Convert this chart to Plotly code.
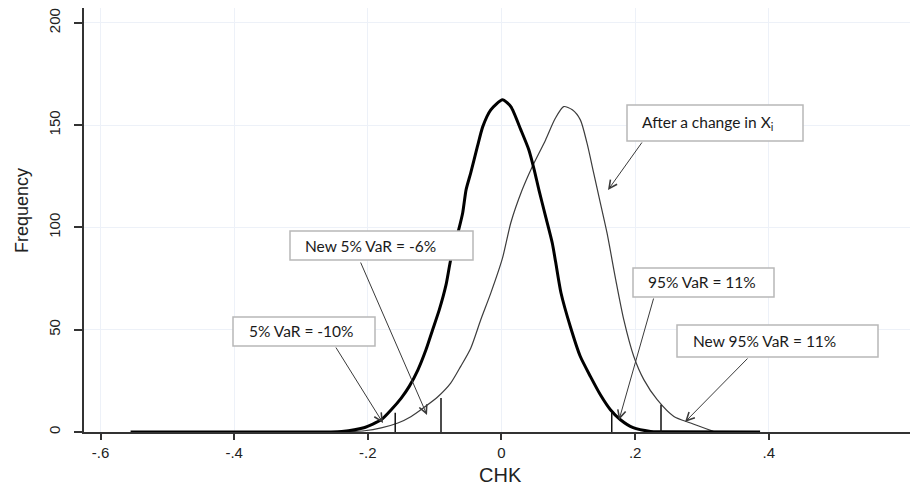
import plotly.graph_objects as go

# Kernel density of CHK returns (bold) and the shifted density after a change in X_i (thin)
chk_base = [-0.555, -0.300, -0.239, -0.206, -0.180, -0.165, -0.150, -0.138, -0.125, -0.113,
            -0.103, -0.093, -0.083, -0.076, -0.064, -0.058, -0.053, -0.046, -0.036, -0.028,
            -0.016, 0.0015, 0.014, 0.029, 0.041, 0.049, 0.056, 0.066, 0.076, 0.081,
            0.089, 0.103, 0.118, 0.133, 0.148, 0.163, 0.178, 0.197, 0.223, 0.238, 0.387]
freq_base = [0.0, 0.0, 0.3, 2.1, 6.0, 10.9, 16.6, 22.3, 30.4, 40.2,
             50.0, 59.8, 71.9, 84.2, 98.9, 107.2, 118.4, 126.7, 139.6, 149.3,
             157.5, 162.4, 159.1, 147.7, 137.9, 128.2, 118.4, 105.4, 92.4, 83.2,
             68.1, 51.6, 36.9, 27.2, 18.2, 10.9, 6.0, 2.1, 0.3, 0.1, 0.0]

chk_shift = [-0.250, -0.230, -0.205, -0.180, -0.155, -0.135, -0.116, -0.096, -0.076, -0.061,
             -0.046, -0.031, -0.016, 0.0015, 0.014, 0.031, 0.045, 0.066, 0.080, 0.093,
             0.106, 0.118, 0.128, 0.138, 0.148, 0.158, 0.171, 0.183, 0.198, 0.213,
             0.233, 0.258, 0.283, 0.317]
freq_shift = [0.0, 0.15, 0.6, 2.0, 4.4, 7.6, 12.0, 17.0, 23.9, 32.1,
              41.0, 54.9, 67.9, 85.0, 102.3, 118.4, 129.0, 142.8, 153.0, 159.1,
              157.5, 152.6, 141.2, 126.6, 111.9, 97.2, 74.4, 54.9, 36.9, 25.6,
              15.8, 7.6, 4.4, 0.3]

# Value-at-risk markers (position on CHK axis, marker height)
var_chk = [-0.159, -0.0905, 0.165, 0.2387]
var_freq = [9.4, 16.6, 9.3, 13.3]

x_ticks = [-0.6, -0.4, -0.2, 0, 0.2, 0.4]
x_tick_text = ["-.6", "-.4", "-.2", "0", ".2", ".4"]
y_ticks = [0, 50, 100, 150, 200]

W, H = 910, 486
L, R, T, B = 84, 0, 8, 54
X_RANGE = [-0.6247, 0.6113]
Y_RANGE = [0, 207.3]


def px(xp):
    return (xp - L) / (W - L - R)


def py(yp):
    return (H - B - yp) / (H - T - B)


AXIS_COL = "#333333"
TICK_FONT = dict(family="Liberation Sans, Arial, sans-serif", size=15, color="#222222")
BOX_FONT = dict(family="Lato, Carlito, sans-serif", size=15.5, color="#1a1a1a")

fig = go.Figure()

fig.add_trace(go.Scatter(x=chk_shift, y=freq_shift, mode="lines",
                         line=dict(color="#3c3c3c", width=1.2, shape="spline", smoothing=0.7),
                         hoverinfo="skip"))
fig.add_trace(go.Scatter(x=chk_base, y=freq_base, mode="lines",
                         line=dict(color="#000000", width=3, shape="spline", smoothing=0.6),
                         hoverinfo="skip"))

vx, vy = [], []
for xv, hv in zip(var_chk, var_freq):
    vx += [xv, xv, None]
    vy += [0, hv, None]
fig.add_trace(go.Scatter(x=vx, y=vy, mode="lines",
                         line=dict(color="#111111", width=1.5), hoverinfo="skip"))

# Callout boxes: (left, top, right, bottom) in pixels, text anchor, label
boxes = [
    ((627, 105, 803, 141), (640, 123), "After a change in X<sub>i</sub>"),
    ((290, 231, 473, 260), (303, 246), "New 5% VaR = -6%"),
    ((233, 317, 375, 346), (247, 331), "5% VaR = -10%"),
    ((633, 268, 774, 297), (646, 282), "95% VaR = 11%"),
    ((677, 325, 878, 357), (691, 341), "New 95% VaR = 11%"),
]
# Arrows: tail (x, y) -> head (x, y) in pixels
arrows = [
    ((643, 141), (608, 190)),
    ((360, 261), (427, 415)),
    ((335, 346), (383, 423)),
    ((654, 297), (619, 420)),
    ((749, 357), (685, 422)),
]

shapes = []
annotations = []
for (x0, y0, x1, y1), (tx, ty), label in boxes:
    shapes.append(dict(type="rect", xref="paper", yref="paper",
                       x0=px(x0), x1=px(x1), y0=py(y1), y1=py(y0),
                       line=dict(color="#b8b8b8", width=1.5), fillcolor="white",
                       layer="above"))
    annotations.append(dict(x=px(tx), y=py(ty), xref="paper", yref="paper",
                            xanchor="left", yanchor="middle", showarrow=False,
                            text=label, font=BOX_FONT))

for (tx, ty), (hx, hy) in arrows:
    annotations.append(dict(x=px(hx), y=py(hy), xref="paper", yref="paper",
                            ax=tx - hx, ay=ty - hy, text="", showarrow=True,
                            arrowhead=5, arrowsize=1.6, arrowwidth=1,
                            arrowcolor="#3a3a3a"))

annotations.append(dict(x=px(22), y=py(210), xref="paper", yref="paper",
                        text="Frequency", textangle=-90, showarrow=False,
                        xanchor="center", yanchor="middle",
                        font=dict(family="Liberation Sans, Arial, sans-serif", size=18,
                                  color="#222222")))
annotations.append(dict(x=px(500), y=py(475), xref="paper", yref="paper",
                        text="CHK", showarrow=False, xanchor="center", yanchor="middle",
                        font=dict(family="Liberation Sans, Arial, sans-serif", size=20,
                                  color="#222222")))

fig.update_layout(
    width=W, height=H,
    margin=dict(l=L, r=R, t=T, b=B),
    paper_bgcolor="white", plot_bgcolor="white",
    showlegend=False,
    shapes=shapes,
    annotations=annotations,
    xaxis=dict(range=X_RANGE, tickmode="array", tickvals=x_ticks, ticktext=x_tick_text,
               ticks="outside", ticklen=6, tickwidth=1.5, tickcolor=AXIS_COL,
               showline=True, linecolor=AXIS_COL, linewidth=1.5,
               showgrid=True, gridcolor="#edf1f8", gridwidth=1, zeroline=False,
               tickfont=TICK_FONT, fixedrange=True),
    yaxis=dict(range=Y_RANGE, tickmode="array", tickvals=y_ticks,
               ticks="outside", ticklen=8, tickwidth=1.5, tickcolor=AXIS_COL,
               tickangle=-90, ticklabelstandoff=8,
               showline=True, linecolor=AXIS_COL, linewidth=1.5,
               showgrid=True, gridcolor="#edf1f8", gridwidth=1, zeroline=False,
               tickfont=TICK_FONT, fixedrange=True),
)

fig.write_html("out.html")
